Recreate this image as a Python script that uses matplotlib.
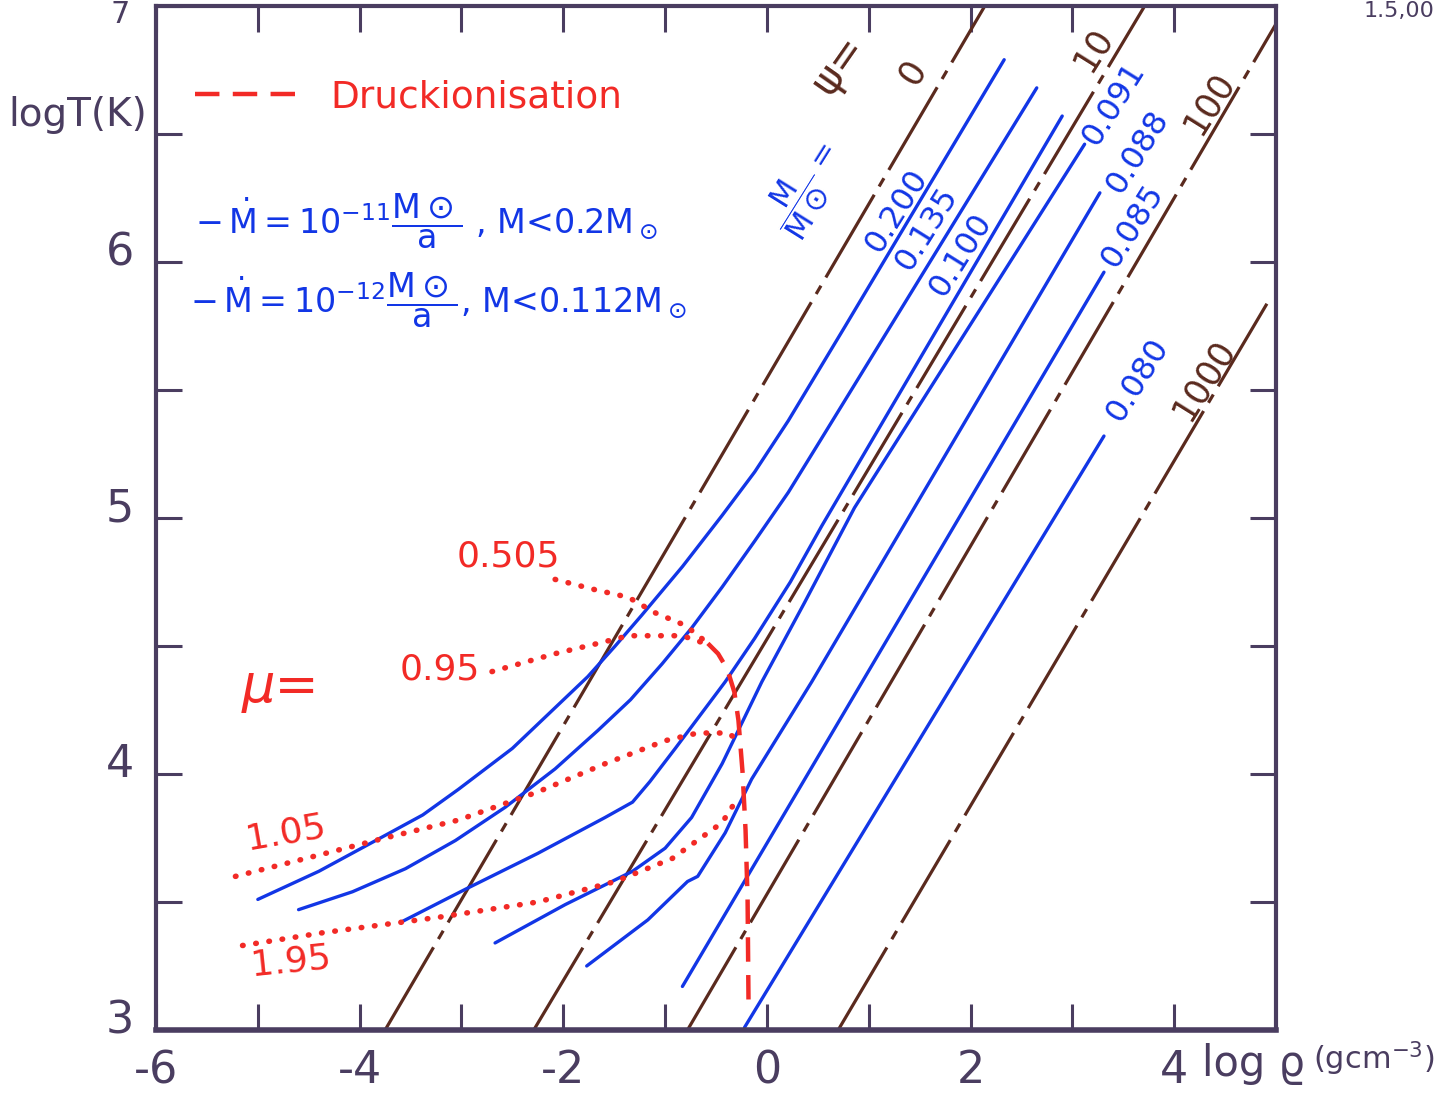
import matplotlib.pyplot as plt
from matplotlib.lines import Line2D
from matplotlib.transforms import ScaledTranslation

plt.rcParams['font.family'] = ['DejaVu Sans']
plt.rcParams['mathtext.default'] = 'regular'

INK = '#4a3d60'
BLUE = '#1236e6'
BROWN = '#5a2a1e'
RED = '#f22a26'

# mass tracks (log rho, log T), one list per mass
masses = ['0.200', '0.135', '0.100', '0.091', '0.088', '0.085', '0.080']
track_rho = [
    [-5.00, -4.40, -3.75, -3.38, -3.03, -2.50, -2.13, -1.76, -1.49, -1.23,
     -0.83, -0.44, -0.12, 0.21, 0.77, 2.33],
    [-4.60, -4.07, -3.55, -3.06, -2.57, -2.08, -1.66, -1.34, -1.03, -0.74,
     -0.44, -0.12, 0.21, 0.52, 0.86, 2.65],
    [-3.60, -2.96, -2.25, -1.59, -1.32, -1.15, -0.90, -0.41, -0.12, 0.23,
     0.54, 2.90],
    [-2.67, -1.98, -1.32, -1.00, -0.74, -0.44, -0.05, 0.37, 0.86, 3.12],
    [-1.77, -1.17, -0.78, -0.68, -0.41, -0.15, 0.44, 3.27],
    [-0.83, 3.31],
    [-0.22, 3.31],
]
track_T = [
    [3.51, 3.62, 3.76, 3.84, 3.94, 4.10, 4.24, 4.38, 4.50, 4.62,
     4.81, 5.01, 5.18, 5.38, 5.75, 6.79],
    [3.47, 3.54, 3.63, 3.74, 3.87, 4.02, 4.17, 4.29, 4.43, 4.57,
     4.73, 4.91, 5.10, 5.30, 5.52, 6.68],
    [3.42, 3.55, 3.69, 3.83, 3.89, 3.97, 4.10, 4.36, 4.53, 4.75,
     4.97, 6.57],
    [3.34, 3.49, 3.62, 3.71, 3.83, 4.04, 4.36, 4.67, 5.04, 6.46],
    [3.25, 3.43, 3.58, 3.60, 3.77, 3.98, 4.36, 6.27],
    [3.17, 5.96],
    [3.01, 5.32],
]

# degeneracy lines psi = const, end points
psi_labels = ['0', '10', '100', '1000']
psi_rho = [[-3.75, 2.14], [-2.29, 3.71], [-0.78, 5.00], [0.70, 4.93]]
psi_T = [[3.00, 7.00], [3.00, 7.00], [3.00, 6.93], [3.00, 5.85]]

# mean molecular weight contours
mu_labels = ['0.505', '0.95', '1.05', '1.95']
mu_rho = [
    [-2.08, -1.69, -1.36, -1.10, -0.80, -0.58],
    [-2.70, -2.08, -1.66, -1.36, -1.10, -0.83, -0.61],
    [-5.22, -4.53, -3.75, -3.03, -2.25, -1.59, -1.00, -0.68, -0.38, -0.28],
    [-5.15, -4.36, -3.23, -2.25, -1.49, -0.93, -0.44, -0.28],
]
mu_T = [
    [4.76, 4.72, 4.69, 4.63, 4.58, 4.51],
    [4.40, 4.47, 4.51, 4.54, 4.54, 4.54, 4.51],
    [3.60, 3.67, 3.75, 3.82, 3.93, 4.04, 4.13, 4.16, 4.16, 4.13],
    [3.33, 3.38, 3.44, 3.50, 3.58, 3.67, 3.81, 3.91],
]

# pressure ionisation boundary
pi_rho = [-0.58, -0.48, -0.39, -0.32, -0.28, -0.24, -0.21, -0.19, -0.18]
pi_T = [4.51, 4.47, 4.41, 4.32, 4.21, 4.01, 3.78, 3.51, 3.07]

fig = plt.figure(figsize=(14.54, 11.03), dpi=100)
ax = fig.add_axes([0.1073, 0.0662, 0.7703, 0.9284])
ax.set_xlim(-6, 5)
ax.set_ylim(3, 7)

for rho, T in zip(psi_rho, psi_T):
    ax.plot(rho, T, color=BROWN, lw=2.3, dashes=(30, 3, 3, 3))

for rho, T in zip(track_rho, track_T):
    ax.plot(rho, T, color=BLUE, lw=2.4, solid_capstyle='round',
            solid_joinstyle='round')

for rho, T in zip(mu_rho, mu_T):
    ax.plot(rho, T, color=RED, lw=4.0, dashes=(0.1, 2.3),
            dash_capstyle='round')

ax.plot(pi_rho, pi_T, color=RED, lw=3.2, dashes=(5.5, 3))

# axes frame and ticks
for side in ax.spines.values():
    side.set_color(INK)
    side.set_linewidth(3)
ax.spines['bottom'].set_linewidth(4)
ax.set_xticks(range(-6, 5))
ax.set_xticklabels([str(v) if v % 2 == 0 else '' for v in range(-6, 5)])
ax.set_yticks([3, 3.5, 4, 4.5, 5, 5.5, 6, 6.5, 7])
ax.set_yticklabels(['3', '', '4', '', '5', '', '6', '', ''])
ax.tick_params(direction='in', length=19, width=2.2, color=INK,
               labelcolor=INK, labelsize=32, top=True, right=True)
ax.tick_params(axis='x', pad=14)
ax.tick_params(axis='y', pad=16)
shift = ScaledTranslation(0, 10 / 72, fig.dpi_scale_trans)
for lab in ax.get_yticklabels():
    lab.set_transform(lab.get_transform() + shift)

fig.text(0.083, 1.0, '7', color=INK, fontsize=22, ha='center', va='top')
fig.text(0.0536, 0.8957, 'logT(K)', color=INK, fontsize=28,
         ha='center', va='center')
fig.text(0.862, 0.035, 'log ϱ', color=INK, fontsize=30, ha='center',
         va='center')
fig.text(0.945, 0.040, '(gcm$^{-3}$)', color=INK, fontsize=22,
         ha='center', va='center')
fig.text(0.962, 0.999, '1.5,00', color=INK, fontsize=16, ha='center',
         va='top')

# legend for the pressure ionisation line
handle = Line2D([], [], color=RED, lw=3.2, dashes=(5.5, 3))
leg = ax.legend([handle], ['Druckionisation'], loc='center left',
                bbox_to_anchor=(0.035, 0.911), frameon=False,
                fontsize=27, handlelength=2.7, handletextpad=0.9,
                borderpad=0, borderaxespad=0, labelcolor=RED)

fig.text(0.134, 0.799,
         r'$-\,\dot{M}=10^{-11}\dfrac{M\odot}{a}$ , M<0.2M$_\odot$',
         color=BLUE, fontsize=24, ha='left', va='center')
fig.text(0.131, 0.728,
         r'$-\,\dot{M}=10^{-12}\dfrac{M\odot}{a}$, M<0.112M$_\odot$',
         color=BLUE, fontsize=24, ha='left', va='center')

# curve labels
mass_pos = [(1.28, 6.20), (1.57, 6.13), (1.91, 6.03), (3.41, 6.62),
            (3.64, 6.43), (3.59, 6.14), (3.64, 5.54)]
for name, (x, y) in zip(masses, mass_pos):
    ax.text(x, y, name, color=BLUE, fontsize=23, rotation=58,
            ha='center', va='center')
ax.text(0.37, 6.29, r'$\dfrac{M}{M\odot}=$', color=BLUE, fontsize=22,
        rotation=58, ha='center', va='center')

psi_pos = [(1.43, 6.74), (3.20, 6.83), (4.34, 6.62), (4.29, 5.54)]
for name, (x, y) in zip(psi_labels, psi_pos):
    ax.text(x, y, name, color=BROWN, fontsize=25, rotation=58,
            ha='center', va='center')
ax.text(0.70, 6.77, 'ψ=', color=BROWN, fontsize=30, rotation=55,
        ha='center', va='center')

ax.text(-4.78, 4.34, 'μ=', color=RED, fontsize=38, style='italic',
        ha='center', va='center')
mu_pos = [(-2.54, 4.85, 0), (-3.21, 4.41, 0), (-4.73, 3.77, 10),
          (-4.68, 3.27, 6)]
for name, (x, y, r) in zip(mu_labels, mu_pos):
    ax.text(x, y, name, color=RED, fontsize=26, rotation=r,
            ha='center', va='center')

fig.savefig('out.png', dpi=100)
